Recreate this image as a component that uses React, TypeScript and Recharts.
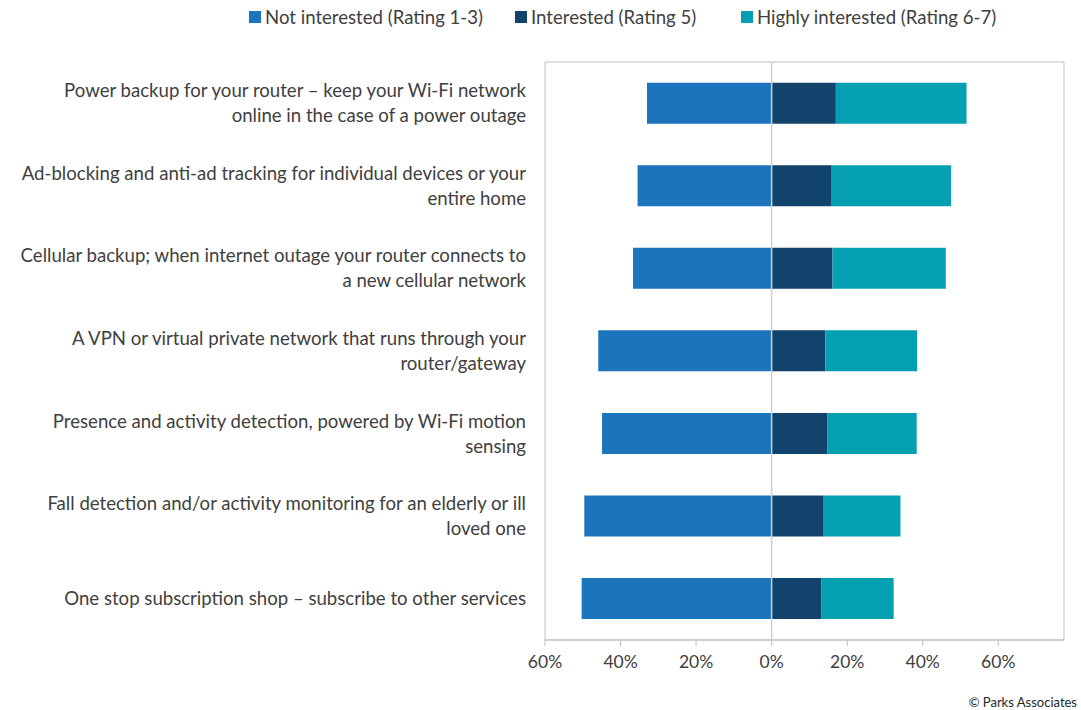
import { Bar, BarChart, ReferenceArea, ReferenceLine, XAxis, YAxis } from "recharts";

const categories = [
  "Power backup for your router – keep your Wi-Fi network\nonline in the case of a power outage",
  "Ad-blocking and anti-ad tracking for individual devices or your\nentire home",
  "Cellular backup; when internet outage your router connects to\na new cellular network",
  "A VPN or virtual private network that runs through your\nrouter/gateway",
  "Presence and activity detection, powered by Wi-Fi motion\nsensing",
  "Fall detection and/or activity monitoring for an elderly or ill\nloved one",
  "One stop subscription shop – subscribe to other services",
];

// percentages, not interested shown to the left of zero
const notInterested = [33.0, 35.5, 36.7, 45.9, 44.9, 49.6, 50.3];
const interested = [17.0, 15.9, 16.1, 14.2, 14.7, 13.6, 13.1];
const highlyInterested = [34.6, 31.6, 30.0, 24.3, 23.7, 20.5, 19.2];

const xTicks = [-60, -40, -20, 0, 20, 40, 60];

const series = [
  { key: "notInt", name: "Not interested (Rating 1-3)", color: "#1c75bc" },
  { key: "int", name: "Interested (Rating 5)", color: "#12436d" },
  { key: "high", name: "Highly interested (Rating 6-7)", color: "#04a0b2" },
];

// legend item left edges
const legendX = [249, 515, 741];

const data = categories.map((name, i) => ({
  name,
  notInt: -notInterested[i],
  int: interested[i],
  high: highlyInterested[i],
}));

const FONT = "Lato, 'Open Sans', sans-serif";
const TEXT = "#404040";

function CategoryTick({ y, payload }: any) {
  const lines = String(payload.value).split("\n");
  const lh = 25;
  const y0 = y - ((lines.length - 1) * lh) / 2;
  return (
    <text x={526} y={y0} textAnchor="end" fontSize={18.6} fill={TEXT} fontFamily={FONT}>
      {lines.map((l, i) => (
        <tspan key={i} x={526} y={y0 + i * lh} dy="0.35em">
          {l}
        </tspan>
      ))}
    </text>
  );
}

export default function App() {
  return (
    <div style={{ position: "absolute", left: 0, top: 0, width: 1081, height: 710, background: "#fff" }}>
      {series.map((s, i) => (
        <div
          key={s.key}
          style={{
            position: "absolute",
            left: legendX[i],
            top: 6,
            display: "flex",
            alignItems: "center",
            fontFamily: FONT,
            fontSize: 18.6,
            color: TEXT,
            whiteSpace: "nowrap",
          }}
        >
          <span style={{ width: 12, height: 12, background: s.color, marginRight: 4, display: "inline-block" }} />
          {s.name}
        </div>
      ))}
      <BarChart
        width={1081}
        height={710}
        data={data}
        layout="vertical"
        stackOffset="sign"
        barCategoryGap="25%"
        margin={{ top: 62, right: 17, bottom: 40, left: 0 }}
      >
        <XAxis
          type="number"
          domain={[-60, 77.4]}
          ticks={xTicks}
          allowDataOverflow
          tickFormatter={(v: number) => `${Math.abs(v)}%`}
          tick={{ fill: TEXT, fontSize: 17.5, fontFamily: FONT }}
          stroke="#bfbfbf"
          tickSize={6}
          tickMargin={10}
          height={30}
        />
        <YAxis
          type="category"
          dataKey="name"
          width={545}
          tick={<CategoryTick />}
          axisLine={false}
          tickLine={false}
          interval={0}
        />
        <ReferenceArea x1={-60} x2={77.4} fill="none" stroke="#bfbfbf" ifOverflow="extendDomain" />
        <ReferenceLine x={0} stroke="#d0d0d0" strokeWidth={1.5} />
        {series.map((s) => (
          <Bar key={s.key} dataKey={s.key} name={s.name} stackId="a" fill={s.color} isAnimationActive={false} />
        ))}
      </BarChart>
      <div
        style={{
          position: "absolute",
          right: 4,
          top: 694,
          fontFamily: FONT,
          fontSize: 13,
          color: "#262626",
        }}
      >
        © Parks Associates
      </div>
    </div>
  );
}
